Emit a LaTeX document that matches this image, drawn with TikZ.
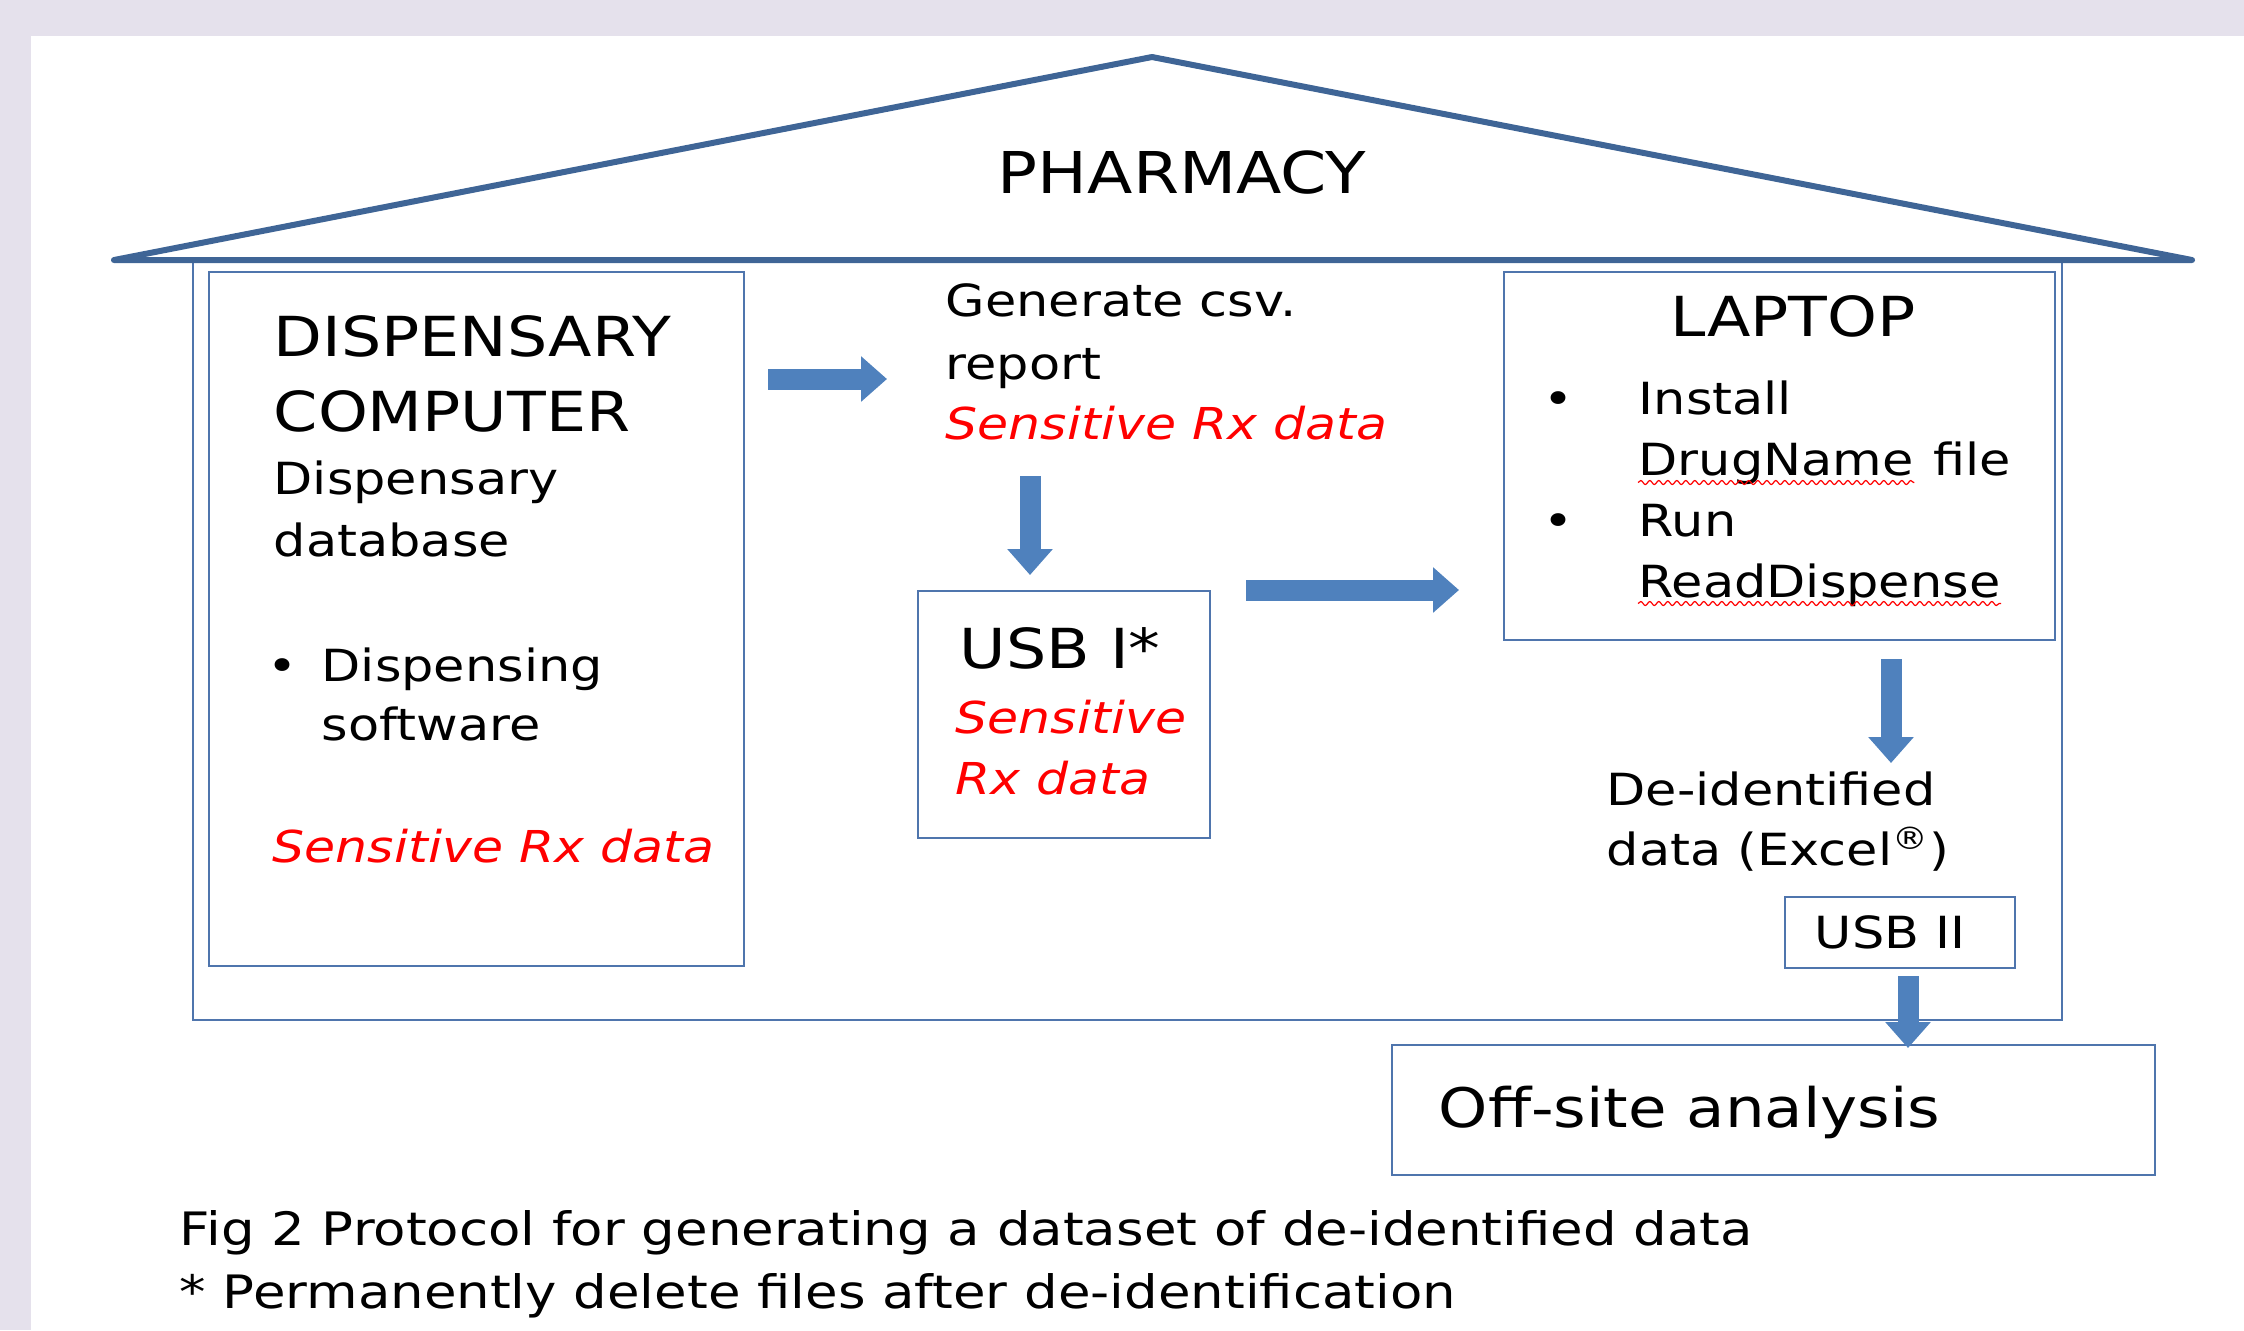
\documentclass[tikz,border=0pt]{standalone}
\usepackage{fontspec}
\setmainfont{DejaVu Sans}[FakeStretch=1.15]
\usepackage{tikz}
\usetikzlibrary{arrows.meta}
\usetikzlibrary{decorations.pathmorphing}
\definecolor{roofblue}{HTML}{3F6596}
\definecolor{boxblue}{HTML}{4F75AD}
\definecolor{arrowblue}{HTML}{4F81BD}
\definecolor{lav}{HTML}{E5E1EC}
\tikzstyle{box}=[draw=boxblue, line width=.2mm, inner sep=0]
\tikzstyle{txt}=[anchor=base west, inner sep=0, font=\fontsize{12.6}{15}\selectfont]
\tikzstyle{bigtxt}=[anchor=base west, inner sep=0, font=\fontsize{15.7}{18}\selectfont]
\tikzstyle{senstxt}=[anchor=base west, inner sep=0, text=red,
                    font=\fontsize{12.5}{15}\selectfont\itshape]
\tikzstyle{bul}=[anchor=base, inner sep=0, font=\fontsize{12.6}{15}\selectfont]
\tikzstyle{captxt}=[anchor=base west, inner sep=0, font=\fontsize{13.1}{15}\selectfont]
\tikzstyle{blockarrow}=[draw=arrowblue, line width=2.1mm,
                    -{Triangle[width=4.4mm,length=2.6mm]}]
\tikzstyle{spell}=[draw=red, line width=.12mm, decorate,
                    decoration={snake, amplitude=.2mm, segment length=.9mm}]

\begin{document}
\begin{tikzpicture}[x=1mm, y=-1mm]
    \useasboundingbox (0,0) rectangle (224.4,133);
    \fill[lav] (0,0) rectangle (224.4,3.6);
    \fill[lav] (0,0) rectangle (3.1,133);
    \draw[boxblue, line width=.2mm] (19.3,26.0) rectangle (206.2,102.0);
    \draw[roofblue, line width=.6mm, line join=round] (11.4,26.0) -- (115.2,5.7) --
    (219.2,26.0) -- cycle;
    \node[anchor=base, inner sep=0, font=\fontsize{16.4}{20}\selectfont] (ph) at (118.2,19.3) {PHARMACY};
    \node[box, minimum width=53.5mm, minimum height=69.4mm] (disp) at (47.65,61.9) {};
    \node[box, minimum width=29.2mm, minimum height=24.7mm] (usb1) at (106.4,71.45) {};
    \node[box, minimum width=55.1mm, minimum height=36.8mm] (laptop) at (177.95,45.6) {};
    \node[box, minimum width=23mm, minimum height=7.1mm] (usb2) at (190,93.25) {};
    \node[box, minimum width=76.3mm, minimum height=13mm] (offsite) at (177.35,111) {};
    \node[bigtxt] (dc1) at (27.3,35.6) {DISPENSARY};
    \node[bigtxt] (dc2) at (27.3,43.1) {COMPUTER};
    \node[txt] (dc3) at (27.3,49.4) {Dispensary};
    \node[txt] (dc4) at (27.3,55.6) {database};
    \node[bul] (db) at (28.3,68.1) {\textbullet};
    \node[txt] (dc5) at (32.1,68.1) {Dispensing};
    \node[txt] (dc6) at (32.1,74.0) {software};
    \node[senstxt] (dc7) at (27.2,86.2) {Sensitive Rx data};
    \node[txt] (gen1) at (94.5,31.6) {Generate csv.};
    \node[txt] (gen2) at (94.5,37.9) {report};
    \node[senstxt] (gen3) at (94.5,43.9) {Sensitive Rx data};
    \node[bigtxt] (u1) at (95.9,66.8) {USB I*};
    \node[senstxt] (u2) at (95.5,73.3) {Sensitive};
    \node[senstxt] (u3) at (95.5,79.4) {Rx data};
    \node[bigtxt, anchor=base] (lp) at (179.3,33.6) {LAPTOP};
    \node[bul] (lb1) at (155.8,41.4) {\textbullet};
    \node[txt] (lt1) at (163.8,41.4) {Install};
    \node[txt] (lt2) at (163.8,47.5) {DrugName};
    \node[txt] (lt2f) at ([xshift=1.8mm]lt2.base east) {file};
    \node[bul] (lb2) at (155.8,53.6) {\textbullet};
    \node[txt] (lt3) at (163.8,53.6) {Run};
    \node[txt] (lt4) at (163.8,59.7) {ReadDispense};
    \node[txt] (de1) at (160.6,80.5) {De-identified};
    \node[txt] (de2) at (160.6,86.5) {data (Excel\textsuperscript{\textregistered})};
    \node[txt] (u4) at (181.4,94.8) {USB II};
    \node[anchor=base west, inner sep=0, font=\fontsize{15.5}{18}\selectfont] (off) at (143.8,112.7) {Off-site analysis};
    \node[captxt] (cap1) at (17.9,124.5) {Fig 2 Protocol for generating a dataset of de-identified data};
    \node[captxt] (cap2) at (17.9,130.8) {* Permanently delete files after de-identification};
    \draw[spell] ([yshift=-.75mm]lt2.base west) -- ([yshift=-.75mm]lt2.base east);
    \draw[spell] ([yshift=-.65mm]lt4.base west) -- ([yshift=-.65mm]lt4.base east);
    \draw[blockarrow, shorten <=2.3mm, shorten >=5.8mm] (disp.east |- 0,37.9) -- (gen1.west |- 0,37.9);
    \draw[blockarrow, shorten <=3.7mm, shorten >=1.5mm] (gen3.base -| 103,0) -- (usb1.north -| 103,0);
    \draw[blockarrow, shorten <=3.5mm, shorten >=4.4mm] (usb1.east |- 0,59) -- (laptop.west |- 0,59);
    \draw[blockarrow, shorten <=1.8mm, shorten >=13.3mm] (laptop.south -| 189.1,0) -- (usb2.north -| 189.1,0);
    \draw[blockarrow, shorten <=.7mm, shorten >=-.4mm] (usb2.south -| 190.8,0) -- (offsite.north -| 190.8,0);
\end{tikzpicture}
\end{document}
